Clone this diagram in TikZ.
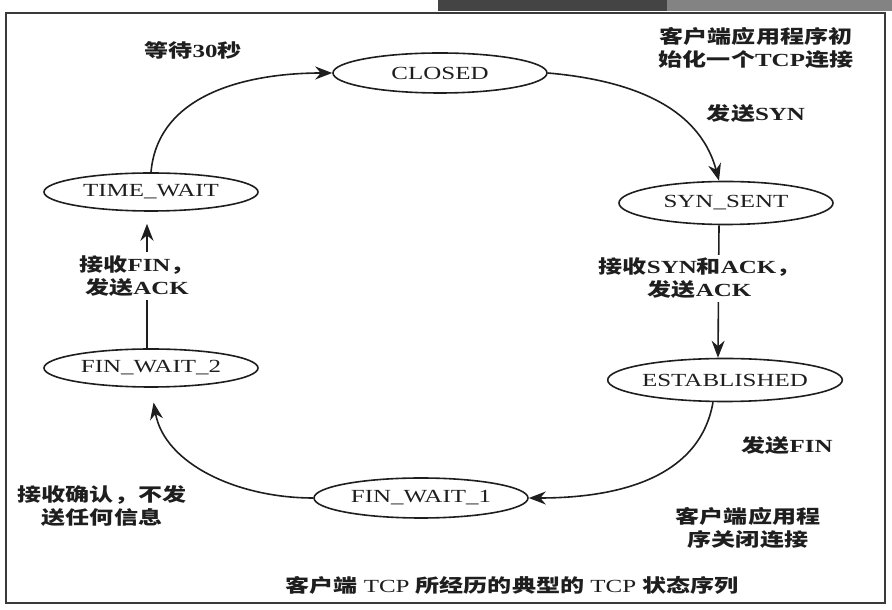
\documentclass[tikz,border=0pt]{standalone}
\usepackage{fontspec}
\setmainfont{Liberation Serif}[FakeStretch=1.35]
\newfontfamily\cjk{Noto Sans CJK SC}[FakeStretch=1.3]
\usepackage{tikz}
\usetikzlibrary{shapes.geometric}
\usetikzlibrary{arrows.meta}
\newcommand{\zh}[1]{{\cjk\bfseries #1}}
\definecolor{ink}{HTML}{1E1E1E}
\definecolor{frame}{HTML}{3A3A3A}
\definecolor{bardark}{HTML}{444444}
\definecolor{barlight}{HTML}{838383}
\tikzset{tcpstate/.style={ellipse, draw=ink, line width=1.6pt, minimum width=214pt, minimum height=40pt, inner sep=0pt, text=ink}}
\tikzset{trans/.style={->, draw=ink, line width=1.6pt}}
\tikzset{lbl/.style={text=ink, align=center}}

\begin{document}
\begin{tikzpicture}[x=1pt, y=1pt, >={Stealth[length=17pt,width=13pt]}, font=\fontsize{18.5}{23}\selectfont]
\useasboundingbox (0,0) rectangle (892,610);
% window frame
\fill[bardark] (438,599) rectangle (667,610);
\fill[barlight] (667,599) rectangle (892,610);
\draw[line width=2pt, frame] (6,7) rectangle (885,597);

% states
\node[tcpstate] (closed) at (440,537) {CLOSED};
\node[tcpstate, minimum height=43pt] (synsent) at (726,407) {SYN\_SENT};
\node[tcpstate, minimum height=43pt] (estab) at (725,230) {ESTABLISHED};
\node[tcpstate] (fin1) at (421,112) {FIN\_WAIT\_1};
\node[tcpstate, minimum height=38pt] (fin2) at (151,242) {FIN\_WAIT\_2};
\node[tcpstate, minimum height=38pt] (timewait) at (151,418) {TIME\_WAIT};

% transitions
\draw[trans] (timewait.north) to[out=85,in=180] (closed.west);
\draw[trans] (closed.east) to[out=-5,in=105] ([xshift=-7pt]synsent.north);
\draw[trans] ([xshift=-7pt]synsent.south) -- node[lbl, fill=white, pos=0.4, xshift=-19pt]
  {\zh{接收}\textbf{SYN}\zh{和}\textbf{ACK}\zh{，}\\\zh{发送}\textbf{ACK}} ([xshift=-7pt]estab.north);
\draw[trans] ([xshift=-12pt]estab.south) to[out=-100,in=0] (fin1.east);
\draw[trans, shorten >=15pt] (fin1.west) to[out=180,in=-80] (fin2.south);
\draw[trans, shorten >=12pt] ([xshift=-4pt]fin2.north) -- node[lbl, fill=white, pos=0.53, xshift=-10pt]
  {\zh{接收}\textbf{FIN}\zh{，}\\\zh{发送}\textbf{ACK}} ([xshift=-4pt]timewait.south);

% notes
\node[lbl] (wait) at (193,560) {\zh{等待}\textbf{30}\zh{秒}};
\node[lbl] (open) at (756,562) {\zh{客户端应用程序初}\\\zh{始化一个}\textbf{TCP}\zh{连接}};
\node[lbl] (sendsyn) at (756,497) {\zh{发送}\textbf{SYN}};
\node[lbl] (sendfin) at (787,165) {\zh{发送}\textbf{FIN}};
\node[lbl] (close) at (748,82) {\zh{客户端应用程}\\\zh{序关闭连接}};
\node[lbl] (ack) at (102,104) {\zh{接收确认，不发}\\\zh{送任何信息}};
\node[lbl] (caption) at (512,25) {\zh{客户端} TCP \zh{所经历的典型的} TCP \zh{状态序列}};
\end{tikzpicture}
\end{document}
